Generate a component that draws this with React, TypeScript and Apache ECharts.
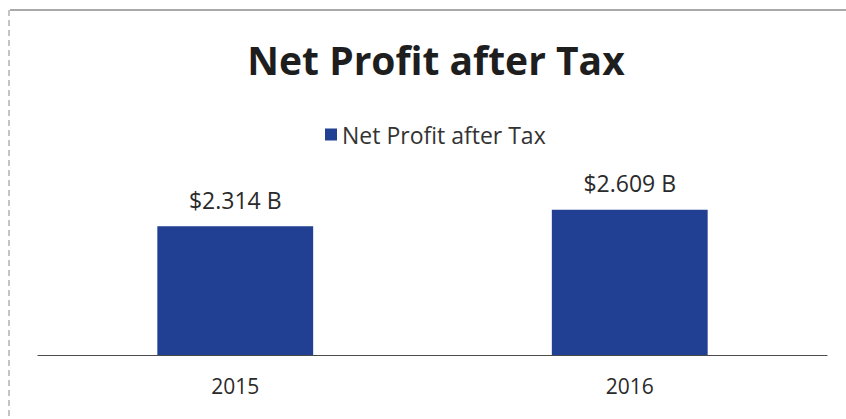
import React, { useEffect, useRef } from "react";
import * as echarts from "echarts";

const categories = ["2015", "2016"];
const profitValues = [2.314, 2.609];
const seriesName = "Net Profit after Tax";
const chartTitle = "Net Profit after Tax";

export default function App() {
  const ref = useRef<HTMLDivElement>(null);
  useEffect(() => {
    if (!ref.current) return;
    const chart = echarts.init(ref.current, undefined, { renderer: "svg" });
    chart.setOption({
      animation: false,
      backgroundColor: "#ffffff",
      title: {
        text: chartTitle,
        left: 431,
        top: 35,
        textAlign: "center",
        textStyle: {
          fontFamily: "Open Sans",
          fontWeight: "bold",
          fontSize: 39,
          color: "#1e1e1e",
        },
      },
      legend: {
        data: [seriesName],
        left: 320,
        top: 118,
        icon: "rect",
        itemWidth: 12,
        itemHeight: 12,
        itemGap: 8,
        textStyle: {
          fontFamily: "Open Sans",
          fontSize: 23,
          color: "#333333",
        },
      },
      grid: { left: 38, right: 19, top: 188, bottom: 64 },
      xAxis: {
        type: "category",
        data: categories,
        axisLine: { show: true, lineStyle: { color: "#4a4a4a", width: 1.2 } },
        axisTick: { show: false },
        axisLabel: {
          margin: 20,
          fontFamily: "Open Sans",
          fontSize: 21,
          color: "#2a2a2a",
        },
      },
      yAxis: {
        type: "value",
        min: 0,
        max: 3,
        show: false,
        splitLine: { show: false },
      },
      series: [
        {
          name: seriesName,
          type: "bar",
          data: profitValues,
          barWidth: "39.5%",
          itemStyle: { color: "#213f93" },
          label: {
            show: true,
            position: "top",
            distance: 15,
            formatter: (p: any) => "$" + p.value.toFixed(3) + " B",
            fontFamily: "Open Sans",
            fontSize: 23,
            color: "#2a2a2a",
          },
        },
      ],
      graphic: [
        {
          type: "line",
          shape: { x1: 10, y1: 10, x2: 846, y2: 10 },
          style: { stroke: "#555555", lineWidth: 1.2 },
        },
        {
          type: "line",
          shape: { x1: 9, y1: 10, x2: 9, y2: 419 },
          style: { stroke: "#888888", lineWidth: 1, lineDash: [6, 4] },
        },
      ],
    });
    return () => chart.dispose();
  }, []);
  return (
    <div
      ref={ref}
      style={{ position: "fixed", left: 0, top: 0, width: 846, height: 419 }}
    />
  );
}
